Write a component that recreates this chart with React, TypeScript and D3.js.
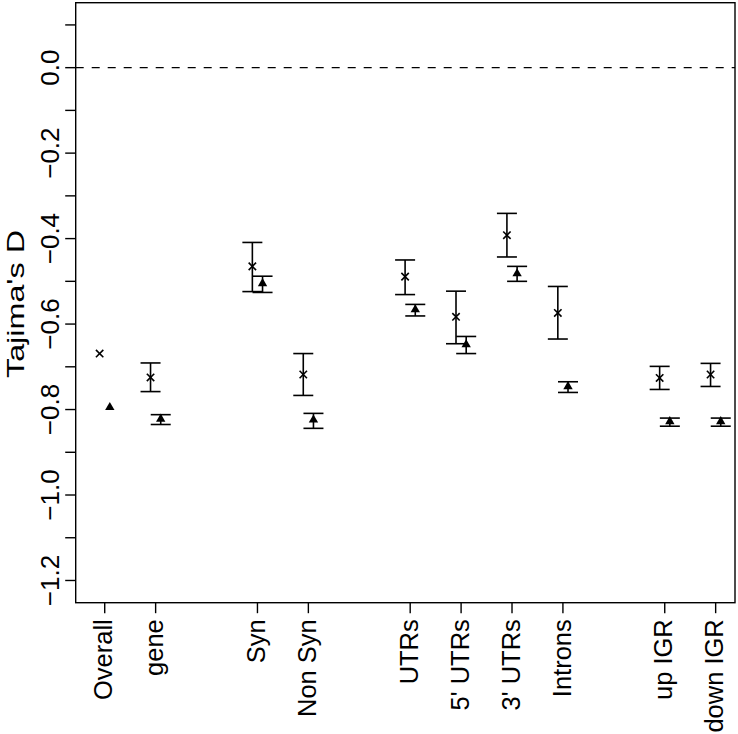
import React from "react";
import * as d3 from "d3";

const categories = ["Overall", "gene", "Syn", "Non Syn", "UTRs", "5' UTRs", "3' UTRs", "Introns", "up IGR", "down IGR"];
const positions = [1, 2, 4, 5, 7, 8, 9, 10, 12, 13];
const crossMean = [-0.669, -0.725, -0.465, -0.718, -0.489, -0.583, -0.392, -0.574, -0.726, -0.718];
const crossLow: (number | null)[] = [null, -0.758, -0.524, -0.767, -0.531, -0.646, -0.443, -0.635, -0.753, -0.746];
const crossHigh: (number | null)[] = [null, -0.691, -0.409, -0.669, -0.450, -0.523, -0.341, -0.512, -0.699, -0.692];
const triMean = [-0.795, -0.822, -0.505, -0.824, -0.566, -0.648, -0.482, -0.746, -0.828, -0.828];
const triLow: (number | null)[] = [null, -0.835, -0.526, -0.844, -0.581, -0.669, -0.500, -0.760, -0.839, -0.839];
const triHigh: (number | null)[] = [null, -0.812, -0.488, -0.809, -0.554, -0.629, -0.465, -0.735, -0.820, -0.820];
const yTicks = [0.1, 0, -0.1, -0.2, -0.3, -0.4, -0.5, -0.6, -0.7, -0.8, -0.9, -1.0, -1.1, -1.2];
const yLabelTicks = [0, -0.2, -0.4, -0.6, -0.8, -1.0, -1.2];
const yTitle = "Tajima's D";

const W = 738;
const H = 734;
const left = 75.7;
const right = 735;
const top = 2.7;
const bottom = 602.7;
const FONT = "'Liberation Sans', Arial, Helvetica, sans-serif";
const FS = 26;

export default function App() {
  const x = d3.scaleLinear().domain([0.43, 13.38]).range([left, right]);
  const y = d3.scaleLinear().domain([-1.252, 0.152]).range([bottom, top]);
  const off = 0.1;
  const cap = 10;
  const tri = d3.symbol().type(d3.symbolTriangle).size(38)() as string;
  const fmt = (v: number) => (v < 0 ? "\u2212" : "") + Math.abs(v).toFixed(1);
  const sw = 1.6;

  return (
    <svg width={W} height={H} style={{ position: "absolute", left: 0, top: 0, background: "#fff" }} fontFamily={FONT}>
      <rect x={0} y={0} width={W} height={H} fill="#fff" />
      {/* zero dashed line */}
      <line x1={left} x2={right} y1={y(0)} y2={y(0)} stroke="#000" strokeWidth={1.4} strokeDasharray="8,8" />
      {/* box */}
      <rect x={left} y={top} width={right - left} height={bottom - top} fill="none" stroke="#000" strokeWidth={1.4} />
      {/* y axis ticks */}
      {yTicks.map((t, i) => (
        <line key={"yt" + i} x1={left - 10.5} x2={left} y1={y(t)} y2={y(t)} stroke="#000" strokeWidth={1.4} />
      ))}
      {yLabelTicks.map((t, i) => (
        <text key={"yl" + i} transform={`translate(${left - 16.4},${y(t)}) rotate(-90)`} textAnchor="middle" fontSize={FS}>
          {fmt(t)}
        </text>
      ))}
      <text
        transform={`translate(23.5,304) rotate(-90)`}
        textAnchor="middle"
        fontSize={24}
        textLength={148}
        lengthAdjust="spacingAndGlyphs"
      >
        {yTitle}
      </text>
      {/* x axis ticks and labels */}
      {positions.map((p, i) => (
        <g key={"xt" + i}>
          <line x1={x(p)} x2={x(p)} y1={bottom} y2={bottom + 10.5} stroke="#000" strokeWidth={1.4} />
          <text transform={`translate(${x(p) + 7.6},${bottom + 16.5}) rotate(-90)`} textAnchor="end" fontSize={25.5}>
            {categories[i]}
          </text>
        </g>
      ))}
      {/* cross series */}
      {positions.map((p, i) => {
        const cx = x(p - off);
        const cy = y(crossMean[i]);
        const lo = crossLow[i];
        const hi = crossHigh[i];
        return (
          <g key={"c" + i} stroke="#000" strokeWidth={sw} fill="none">
            {lo !== null && hi !== null && (
              <>
                <line x1={cx} x2={cx} y1={y(lo)} y2={y(hi)} />
                <line x1={cx - cap} x2={cx + cap} y1={y(lo)} y2={y(lo)} />
                <line x1={cx - cap} x2={cx + cap} y1={y(hi)} y2={y(hi)} />
              </>
            )}
            <line x1={cx - 3.7} x2={cx + 3.7} y1={cy - 3.7} y2={cy + 3.7} />
            <line x1={cx - 3.7} x2={cx + 3.7} y1={cy + 3.7} y2={cy - 3.7} />
          </g>
        );
      })}
      {/* triangle series */}
      {positions.map((p, i) => {
        const cx = x(p + off);
        const cy = y(triMean[i]);
        const lo = triLow[i];
        const hi = triHigh[i];
        return (
          <g key={"t" + i} stroke="#000" strokeWidth={sw}>
            {lo !== null && hi !== null && (
              <>
                <line x1={cx} x2={cx} y1={y(lo)} y2={y(hi)} />
                <line x1={cx - cap} x2={cx + cap} y1={y(lo)} y2={y(lo)} />
                <line x1={cx - cap} x2={cx + cap} y1={y(hi)} y2={y(hi)} />
              </>
            )}
            <path d={tri} transform={`translate(${cx},${cy})`} fill="#000" stroke="none" />
          </g>
        );
      })}
    </svg>
  );
}
